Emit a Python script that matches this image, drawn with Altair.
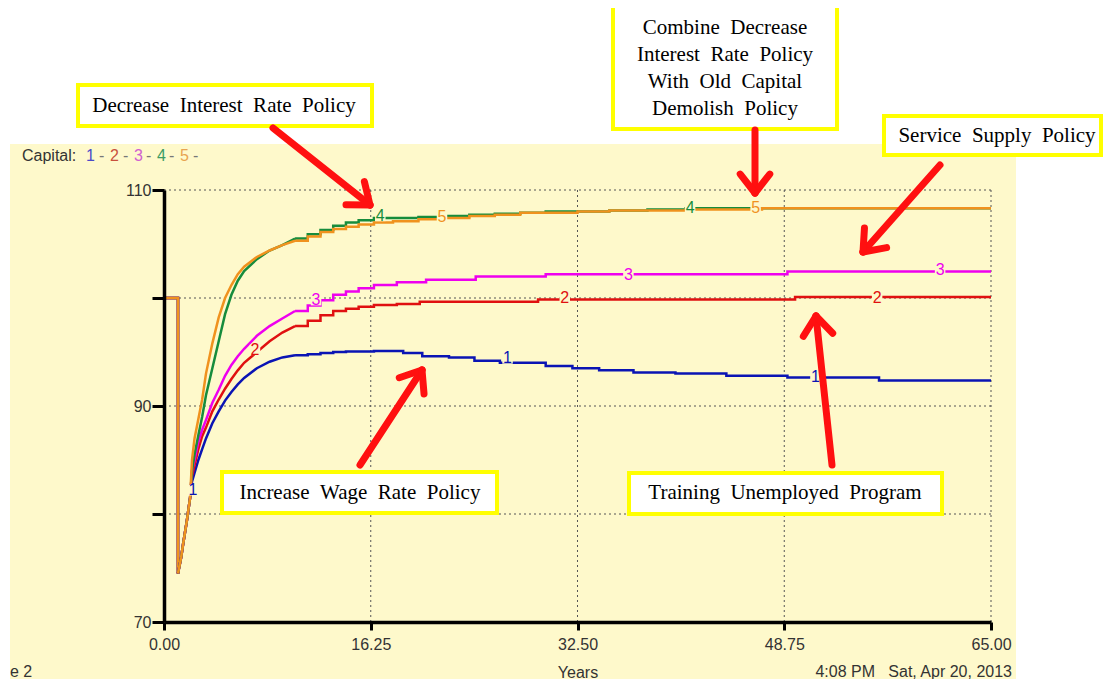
import math
import altair as alt
import pandas as pd

# ---------------- data ----------------
series_names = ["1", "2", "3", "4", "5"]
line_colors = ["#0A14B4", "#E01010", "#EE00EE", "#168C3C", "#F0921E"]
label_colors = ["#4A4AC8", "#C8503C", "#D060D0", "#3C9C64", "#E8A450"]

years_1 = [0, 1.1, 1.35, 1.5, 1.8, 2.05, 2.2, 2.4, 2.7, 3.0, 3.3, 3.8, 4.3, 4.8, 5.3, 5.8,
           6.3, 7.3, 8.3, 9.3, 10.3, 11.3, 12.3, 13.3, 14.3, 16.5, 18.8, 20.3, 22.4, 24.4,
           26.4, 30.0, 32.1, 34.2, 36.9, 40.2, 44.2, 49.0, 56.2, 65]
capital_1 = [100, 74.5, 76, 77.2, 79.4, 81.5, 83.0, 83.8, 85.0, 86.0, 87.0, 88.4, 89.5, 90.5,
             91.3, 92.0, 92.6, 93.5, 94.1, 94.5, 94.7, 94.8, 94.9, 95.0, 95.05, 95.1, 94.9,
             94.6, 94.5, 94.2, 94.0, 93.7, 93.5, 93.3, 93.1, 93.0, 92.8, 92.65, 92.35, 92.35]

years_2 = [0, 1.1, 1.35, 1.5, 1.8, 2.05, 2.2, 2.4, 2.7, 3.0, 3.3, 3.8, 4.3, 4.8, 5.3, 5.8,
           6.3, 7.3, 8.3, 9.3, 10.3, 11.3, 12.3, 13.3, 14.3, 15.3, 16.5, 18.3, 20.1, 29.4,
           49.6, 65]
capital_2 = [100, 74.5, 76, 77.2, 79.4, 81.5, 83.5, 84.5, 86.0, 87.2, 88.0, 89.5, 90.6, 91.6,
             92.5, 93.3, 94.0, 95.0, 96.0, 96.8, 97.4, 97.9, 98.4, 98.8, 99.0, 99.2, 99.35,
             99.45, 99.65, 99.85, 100.1, 100.1]

years_3 = [0, 1.1, 1.35, 1.5, 1.8, 2.05, 2.2, 2.4, 2.7, 3.0, 3.3, 3.8, 4.3, 4.8, 5.3, 5.8,
           6.3, 7.3, 8.3, 9.3, 10.3, 11.3, 12.3, 13.3, 14.3, 15.3, 16.5, 18.3, 20.6, 24.5,
           30.0, 49.0, 65]
capital_3 = [100, 74.5, 76, 77.2, 79.4, 81.5, 84.0, 85.0, 86.7, 87.8, 88.7, 90.3, 91.5, 92.8,
             93.8, 94.6, 95.3, 96.5, 97.4, 98.1, 98.8, 99.3, 99.8, 100.3, 100.6, 100.9, 101.2,
             101.45, 101.7, 102.0, 102.2, 102.45, 102.45]

years_4 = [0, 1.1, 1.35, 1.5, 1.8, 2.05, 2.2, 2.4, 2.7, 3.0, 3.3, 3.8, 4.3, 4.8, 5.3, 5.8,
           6.3, 7.3, 8.3, 9.3, 10.3, 11.3, 12.3, 13.3, 14.3, 15.3, 16.5, 18, 20, 22, 24, 26,
           28, 30, 32.5, 35, 38, 41, 65]
capital_4 = [100, 74.5, 76, 77.2, 79.4, 81.5, 84, 85.5, 87.3, 89, 91, 93.5, 96, 98.5, 100.3,
             101.6, 102.5, 103.6, 104.4, 104.9, 105.5, 105.9, 106.3, 106.7, 107.0, 107.2,
             107.4, 107.4, 107.5, 107.6, 107.7, 107.8, 107.9, 108.0, 108.0, 108.1, 108.2,
             108.3, 108.3]

years_5 = [0, 1.1, 1.35, 1.5, 1.8, 2.05, 2.2, 2.4, 2.7, 3.0, 3.3, 3.8, 4.3, 4.8, 5.3, 5.8,
           6.3, 7.3, 8.3, 9.3, 10.3, 11.3, 12.3, 13.3, 14.3, 15.3, 16.5, 18, 20, 22, 24, 26,
           28, 30, 32.5, 35, 38, 41, 44, 47, 65]
capital_5 = [100, 74.5, 76, 77.2, 79.4, 81.5, 85, 87, 88.8, 90.6, 93, 95.8, 98.2, 100, 101.2,
             102.2, 102.9, 103.8, 104.4, 104.9, 105.3, 105.7, 106.1, 106.4, 106.6, 106.8,
             107.0, 107.1, 107.3, 107.4, 107.6, 107.7, 107.9, 107.9, 108.0, 108.1, 108.1,
             108.2, 108.2, 108.3, 108.3]

# in-line number labels (series, year, capital)
label_series = ["1", "1", "1", "2", "2", "2", "3", "3", "3", "4", "4", "5", "5"]
label_years = [2.28, 27.0, 51.2, 7.15, 31.5, 56.05, 11.95, 36.5, 61.0, 17.0, 41.35, 21.85, 46.5]
label_capital = [82.2, 94.4, 92.7, 95.2, 100.0, 100.0, 99.8, 102.1, 102.6, 107.6, 108.3, 107.5, 108.3]

x_ticks = [0, 16.25, 32.5, 48.75, 65]
y_ticks = [70, 80, 90, 100, 110]
x_grid = [16.25, 32.5, 48.75, 65]
y_grid = [80, 90, 100, 110]

# ---------------- layout (page pixels) ----------------
W, H = 827, 432
X0, Y0 = 164, 190
BG = "#FEF9CB"
SERIF = "Liberation Serif"
SANS = "Liberation Sans"
NB = "\u00a0"
SMOOTH_FROM, SMOOTH_TO = 1.1, 10.3   # drawn with fine (linear) stairs in this span


def t_of(page_x):  # page pixel -> years
    return (page_x - X0) * 65.0 / W


def v_of(page_y):  # page pixel -> capital
    return 110.0 - (page_y - Y0) * 40.0 / H


def spaced(s):
    return s.replace(" ", " " + NB)


boxes = [  # x1, y1, x2, y2
    (78, 85, 372, 126),
    (613, 6, 837, 129),
    (884, 116, 1101, 155),
    (222, 472, 497, 513),
    (629, 473, 942, 514),
]
box_lines = [  # text, x, y
    ("Decrease Interest Rate Policy", 224, 106),
    ("Combine Decrease", 725, 28),
    ("Interest Rate Policy", 725, 55),
    ("With Old Capital", 725, 82),
    ("Demolish Policy", 725, 109),
    ("Service Supply Policy", 997, 136),
    ("Increase Wage Rate Policy", 360, 493),
    ("Training Unemployed Program", 785, 493),
]
arrows = [  # tail -> tip
    ((273, 128), (370, 205)),
    ((755, 130), (755, 193)),
    ((940, 165), (863, 252)),
    ((360, 465), (422, 370)),
    ((832, 465), (816, 316)),
]

# ---------------- frames ----------------
rows_step, rows_lin = [], []
for name, ys, cs in zip(series_names,
                        [years_1, years_2, years_3, years_4, years_5],
                        [capital_1, capital_2, capital_3, capital_4, capital_5]):
    for t, c in zip(ys, cs):
        if t <= SMOOTH_FROM:
            rows_step.append({"series": name, "seg": name + "a", "years": t, "capital": c})
        if t >= SMOOTH_TO:
            rows_step.append({"series": name, "seg": name + "c", "years": t, "capital": c})
        if SMOOTH_FROM <= t <= SMOOTH_TO:
            rows_lin.append({"series": name, "seg": name + "b", "years": t, "capital": c})
step_df = pd.DataFrame(rows_step)
lin_df = pd.DataFrame(rows_lin)
labels_df = pd.DataFrame({"series": label_series, "years": label_years, "capital": label_capital})

xs = alt.Scale(domain=[0, 65], nice=False, zero=False)
ysc = alt.Scale(domain=[70, 110], nice=False, zero=False)
color_scale = alt.Scale(domain=series_names, range=line_colors)
label_color_scale = alt.Scale(domain=series_names, range=label_colors)

AX_X = alt.Axis(values=x_ticks, format=".2f", grid=False, zindex=1,
                domainColor="black", domainWidth=3.5, tickColor="black",
                tickWidth=3, tickSize=8, labelFont=SANS, labelFontSize=16,
                labelColor="#333333", labelPadding=6, title="Years",
                titleFont=SANS, titleFontSize=16, titleFontWeight="normal",
                titleColor="#333333", titlePadding=12, labelFlush=False)
AX_Y = alt.Axis(values=y_ticks, grid=False, zindex=1, domainColor="black",
                domainWidth=3.5, tickColor="black", tickWidth=3, tickSize=12,
                labelFont=SANS, labelFontSize=16, labelColor="#333333",
                labelPadding=1, title=None, labelFlush=False,
                labelExpr="(datum.value - 70) % 20 == 0 ? datum.label : ''")


def X(field):
    return alt.X(field, type="quantitative", scale=xs, axis=AX_X)


def Y(field):
    return alt.Y(field, type="quantitative", scale=ysc, axis=AX_Y)


background = alt.Chart(alt.Data(values=[{}])).mark_rect(fill=BG).encode(
    x=alt.value(10 - X0), x2=alt.value(1016 - X0), y=alt.value(144 - Y0), y2=alt.value(690 - Y0)
)

hgrid = alt.Chart(pd.DataFrame({"v": y_grid})).mark_rule(
    color="#555555", strokeWidth=1, strokeDash=[2, 3]
).encode(y=Y("v"))

vgrid = alt.Chart(pd.DataFrame({"v": x_grid})).mark_rule(
    color="#555555", strokeWidth=1, strokeDash=[2, 3]
).encode(x=X("v"))

lines_step = alt.Chart(step_df).mark_line(interpolate="step-after", strokeWidth=2.5).encode(
    x=X("years"), y=Y("capital"),
    color=alt.Color("series:N", scale=color_scale, legend=None),
    detail="seg:N",
    order=alt.Order("years:Q"),
)
lines_lin = alt.Chart(lin_df).mark_line(interpolate="linear", strokeWidth=2.5).encode(
    x=X("years"), y=Y("capital"),
    color=alt.Color("series:N", scale=color_scale, legend=None),
    detail="seg:N",
    order=alt.Order("years:Q"),
)

label_bg = alt.Chart(labels_df).mark_point(shape="square", filled=True, opacity=1, size=110,
                                           color=BG).encode(x=X("years"), y=Y("capital"))
label_txt = alt.Chart(labels_df).mark_text(font=SANS, fontSize=16, baseline="middle",
                                           align="center").encode(
    x=X("years"), y=Y("capital"), text="series:N",
    color=alt.Color("series:N", scale=label_color_scale, legend=None)
)

# legend text "Capital: 1 - 2 - 3 - 4 - 5 -"
leg_rows = [{"t": "Capital:", "x": t_of(22), "c": "#333333"}]
leg_x = [86, 99, 110, 123, 134, 146, 157, 169, 180, 193]
leg_t = ["1", "-", "2", "-", "3", "-", "4", "-", "5", "-"]
leg_c = [label_colors[0], "#777777", label_colors[1], "#777777", label_colors[2], "#777777",
         label_colors[3], "#777777", label_colors[4], "#777777"]
for t, x, c in zip(leg_t, leg_x, leg_c):
    leg_rows.append({"t": t, "x": t_of(x), "c": c})
leg_df = pd.DataFrame(leg_rows)
leg_df["y"] = v_of(156)
legend_text = alt.Chart(leg_df).mark_text(font=SANS, fontSize=16, align="left",
                                          baseline="middle").encode(
    x=X("x"), y=Y("y"), text="t:N", color=alt.Color("c:N", scale=None)
)

foot_df = pd.DataFrame([
    {"t": "e 2", "x": t_of(10), "y": v_of(672), "a": "left"},
    {"t": "4:08 PM" + NB * 3 + "Sat, Apr 20, 2013", "x": t_of(1012), "y": v_of(672), "a": "right"},
])
footer_left = alt.Chart(foot_df[foot_df["a"] == "left"]).mark_text(
    font=SANS, fontSize=16, align="left", baseline="middle", color="#333333"
).encode(x=X("x"), y=Y("y"), text="t:N")
footer_right = alt.Chart(foot_df[foot_df["a"] == "right"]).mark_text(
    font=SANS, fontSize=16, align="right", baseline="middle", color="#333333"
).encode(x=X("x"), y=Y("y"), text="t:N")

# arrows
seg = []
for (tx, ty), (hx, hy) in arrows:
    seg.append({"x": t_of(tx), "y": v_of(ty), "x2": t_of(hx), "y2": v_of(hy)})
    dx, dy = hx - tx, hy - ty
    n = math.hypot(dx, dy)
    ux, uy = dx / n, dy / n
    for sgn in (1, -1):
        a = math.radians(38) * sgn
        rx = ux * math.cos(a) - uy * math.sin(a)
        ry = ux * math.sin(a) + uy * math.cos(a)
        seg.append({"x": t_of(hx), "y": v_of(hy),
                    "x2": t_of(hx - 24 * rx), "y2": v_of(hy - 24 * ry)})
seg_df = pd.DataFrame(seg)
arrow_marks = alt.Chart(seg_df).mark_rule(color="#FF1010", strokeWidth=7,
                                          strokeCap="round").encode(
    x=X("x"), y=Y("y"), x2="x2:Q", y2="y2:Q"
)

box_df = pd.DataFrame([{"x": t_of(a), "y": v_of(b), "x2": t_of(c), "y2": v_of(d)}
                       for a, b, c, d in boxes])
box_marks = alt.Chart(box_df).mark_rect(fill="white", stroke="#FFFF00", strokeWidth=4).encode(
    x=X("x"), y=Y("y"), x2="x2:Q", y2="y2:Q"
)
bt_df = pd.DataFrame([{"t": spaced(t), "x": t_of(x), "y": v_of(y)} for t, x, y in box_lines])
box_text = alt.Chart(bt_df).mark_text(font=SERIF, fontSize=21, align="center",
                                      baseline="middle", color="black").encode(
    x=X("x"), y=Y("y"), text="t:N"
)

chart = alt.layer(
    background, hgrid, vgrid, lines_step, lines_lin, label_bg, label_txt, legend_text,
    footer_left, footer_right, box_marks, box_text, arrow_marks
).properties(
    width=W, height=H,
    autosize=alt.AutoSizeParams(type="none"),
    padding={"left": X0 - 8, "top": Y0 - 8, "right": 1096 - (X0 - 8) - W,
             "bottom": 671 - (Y0 - 8) - H},
).configure(background="white").configure_view(stroke=None)

chart.save("out.html", embed_options={"renderer": "svg", "actions": False})
